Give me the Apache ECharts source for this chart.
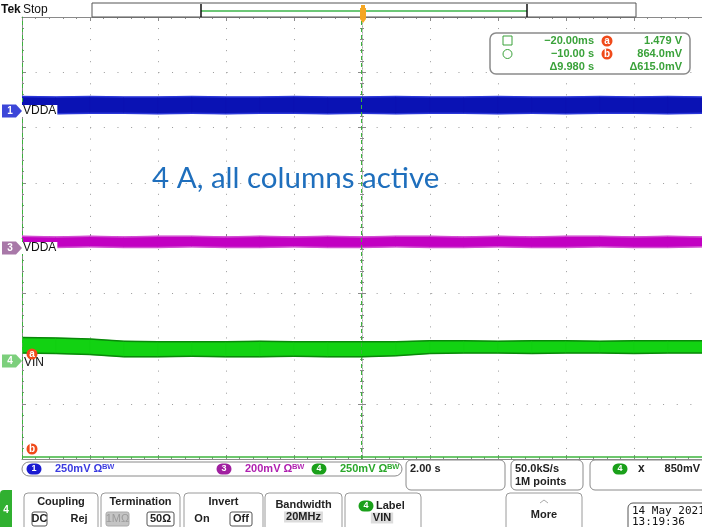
<!DOCTYPE html>
<html>
<head>
<meta charset="utf-8">
<script src="https://cdn.jsdelivr.net/npm/echarts@6/dist/echarts.min.js"></script>
<style>
html, body { margin: 0; padding: 0; background: #fff; }
#scope { width: 702px; height: 527px; }
</style>
</head>
<body>
<div id="scope"></div>
<script>
// time base, 2 s/div, trigger in the middle
var timeSec = [-10, -9, -8, -7, -6, -5, -4, -3, -2, -1, 0, 1, 2, 3, 4, 5, 6, 7, 8, 9, 10];
// trace envelopes, in divisions from the centre line
var ch1Top = [2.56, 2.55, 2.56, 2.55, 2.55, 2.56, 2.55, 2.55, 2.56, 2.55, 2.55, 2.56, 2.55, 2.55, 2.56, 2.55, 2.55, 2.56, 2.55, 2.56, 2.55];
var ch1Bot = [2.26, 2.25, 2.26, 2.26, 2.25, 2.26, 2.25, 2.26, 2.26, 2.25, 2.26, 2.25, 2.26, 2.26, 2.25, 2.26, 2.25, 2.26, 2.26, 2.25, 2.26];
var ch3Top = [0.03, 0.02, 0.03, 0.02, 0.03, 0.03, 0.02, 0.03, 0.02, 0.03, 0.02, 0.03, 0.03, 0.02, 0.03, 0.02, 0.03, 0.03, 0.02, 0.03, 0.02];
var ch3Bot = [-0.17, -0.17, -0.16, -0.17, -0.17, -0.16, -0.17, -0.17, -0.16, -0.17, -0.17, -0.16, -0.17, -0.17, -0.16, -0.17, -0.17, -0.16, -0.17, -0.17, -0.16];
var ch4Top = [-1.80, -1.81, -1.83, -1.87, -1.88, -1.88, -1.88, -1.87, -1.88, -1.88, -1.88, -1.88, -1.86, -1.86, -1.87, -1.86, -1.86, -1.87, -1.86, -1.86, -1.86];
var ch4Bot = [-2.08, -2.09, -2.11, -2.15, -2.15, -2.14, -2.15, -2.15, -2.14, -2.15, -2.15, -2.13, -2.09, -2.08, -2.08, -2.09, -2.08, -2.08, -2.09, -2.08, -2.08];
// cursors: a = -20 ms, b = -10 s ; horizontal cursor b level (div)
var cursorTimes = [-0.02, -10.0];
var cursorLevels = [-3.96];

var myChart = echarts.init(document.getElementById('scope'));

// one trace = filled band between two envelopes, drawn segment by segment
function band(name, top, bot, fill, edge) {
	return {
		name: name, type: 'custom', silent: true, clip: true,
		encode: { x: 0, y: [1, 2] },
		data: timeSec.map(function (t, i) { return [t, top[i], bot[i]]; }),
		renderItem: function (params, api) {
			var i = params.dataIndex;
			if (i >= timeSec.length - 1) return null;
			var a1 = api.coord([timeSec[i], top[i]]), a2 = api.coord([timeSec[i + 1], top[i + 1]]);
			var b1 = api.coord([timeSec[i], bot[i]]), b2 = api.coord([timeSec[i + 1], bot[i + 1]]);
			return {
				type: 'group',
				children: [
					{ type: 'polygon', shape: { points: [a1, a2, b2, b1] }, style: { fill: fill, stroke: fill, lineWidth: 0.6 } },
					{ type: 'line', shape: { x1: a1[0], y1: a1[1], x2: a2[0], y2: a2[1] }, style: { stroke: edge, lineWidth: 1.5 } },
					{ type: 'line', shape: { x1: b1[0], y1: b1[1], x2: b2[0], y2: b2[1] }, style: { stroke: edge, lineWidth: 1.5 } }
				]
			};
		}
	};
}

var rulerX = function (pos, inside, onZero) {
	return {
		type: 'value', min: -10, max: 10, interval: 2, position: pos,
		axisLine: { show: true, onZero: onZero, onZeroAxisIndex: 0, lineStyle: { color: onZero ? '#aaa' : '#8a8a8a', width: 1, type: onZero ? [1, 2] : 'solid' } },
		axisTick: { show: true, inside: inside, length: 4, lineStyle: { color: '#8a8a8a' } },
		minorTick: { show: true, splitNumber: 5, length: 2, lineStyle: { color: '#8a8a8a' } },
		axisLabel: { show: false },
		splitLine: { show: false }
	};
};
var rulerY = function (pos, inside, onZero) {
	return {
		type: 'value', min: -4, max: 4, interval: 1, position: pos,
		axisLine: { show: true, onZero: onZero, onZeroAxisIndex: 0, lineStyle: { color: onZero ? '#aaa' : '#8a8a8a', width: 1, type: onZero ? [1, 2] : 'solid' } },
		axisTick: { show: true, inside: inside, length: 4, lineStyle: { color: '#8a8a8a' } },
		minorTick: { show: true, splitNumber: 5, length: 2, lineStyle: { color: '#8a8a8a' } },
		axisLabel: { show: false },
		splitLine: { show: false }
	};
};

var xMain = rulerX('bottom', true, false);
xMain.splitLine = { show: true, lineStyle: { color: '#9a9a9a', width: 1, type: [1, 10.05] } };
var yMain = rulerY('left', true, false);
yMain.splitLine = { show: true, lineStyle: { color: '#9a9a9a', width: 1, type: [1, 12.64] } };

var uiFont = 'Liberation Sans';
var g = [];
function txt(x, y, s, o) {
	o = o || {};
	g.push({
		type: 'text', z: o.z || 20, silent: true,
		style: {
			text: s, x: x, y: y, fill: o.color || '#222', font: (o.weight || 'bold') + ' ' + (o.size || 11) + 'px ' + (o.family || uiFont),
			align: o.align || 'left', verticalAlign: 'middle',
			backgroundColor: o.bg, padding: o.pad
		}
	});
}
function box(x, y, w, h, r, stroke, fill, lw) {
	g.push({
		type: 'rect', z: 15, silent: true,
		shape: { x: x, y: y, width: w, height: h, r: r },
		style: { fill: fill || '#fff', stroke: stroke || '#9a9a9a', lineWidth: lw || 1 }
	});
}
function pill(cx, cy, s, color, w) {
	w = w || 15;
	g.push({ type: 'rect', z: 21, silent: true, shape: { x: cx - w / 2, y: cy - 5.5, width: w, height: 11, r: 5.5 }, style: { fill: color } });
	g.push({ type: 'text', z: 22, silent: true, style: { text: s, x: cx, y: cy, fill: '#fff', font: 'bold 9px ' + uiFont, align: 'center', verticalAlign: 'middle' } });
}
function dot(cx, cy, s) {
	g.push({ type: 'circle', z: 21, silent: true, shape: { cx: cx, cy: cy, r: 5.5 }, style: { fill: '#f04a1a' } });
	g.push({ type: 'text', z: 22, silent: true, style: { text: s, x: cx, y: cy, fill: '#fff', font: 'bold 10px ' + uiFont, align: 'center', verticalAlign: 'middle' } });
}
function chMarker(y, s, color, textColor) {
	g.push({ type: 'polygon', z: 21, silent: true, shape: { points: [[2, y - 6.5], [16, y - 6.5], [22, y], [16, y + 6.5], [2, y + 6.5]] }, style: { fill: color } });
	g.push({ type: 'text', z: 22, silent: true, style: { text: s, x: 10, y: y, fill: textColor || '#fff', font: 'bold 10px ' + uiFont, align: 'center', verticalAlign: 'middle' } });
}

// header
txt(1, 10, 'Tek', { size: 12, weight: 'bold', color: '#111' });
txt(23, 10, 'Stop', { size: 12, weight: 'normal', color: '#111' });
box(92, 3, 544, 14, 0, '#555', '#fff', 1);
g.push({ type: 'line', z: 16, silent: true, shape: { x1: 201, y1: 11, x2: 527, y2: 11 }, style: { stroke: '#3cb44a', lineWidth: 1.5 } });
g.push({ type: 'line', z: 16, silent: true, shape: { x1: 201, y1: 4, x2: 201, y2: 17 }, style: { stroke: '#111', lineWidth: 1.5 } });
g.push({ type: 'line', z: 16, silent: true, shape: { x1: 527, y1: 4, x2: 527, y2: 17 }, style: { stroke: '#111', lineWidth: 1.5 } });
g.push({ type: 'polygon', z: 17, silent: true, shape: { points: [[360, 8], [366, 8], [366, 19], [363, 23], [360, 19]] }, style: { fill: '#f5a623' } });
g.push({ type: 'rect', z: 17, silent: true, shape: { x: 361, y: 5, width: 4, height: 3 }, style: { fill: '#f5a623' } });

// cursor readout
box(490, 33, 200, 41, 6, '#8a8a8a', '#fff', 1.5);
var cg = '#3aa23a';
g.push({ type: 'rect', z: 21, silent: true, shape: { x: 503, y: 36, width: 9, height: 9 }, style: { fill: 'none', stroke: cg, lineWidth: 1 } });
g.push({ type: 'circle', z: 21, silent: true, shape: { cx: 507.5, cy: 54, r: 4.5 }, style: { fill: 'none', stroke: cg, lineWidth: 1 } });
txt(594, 41, '\u221220.00ms', { align: 'right', color: cg });
txt(594, 54, '\u221210.00 s', { align: 'right', color: cg });
txt(594, 67, '\u03949.980 s', { align: 'right', color: cg });
dot(607, 41, 'a');
dot(607, 54, 'b');
txt(682, 41, '1.479 V', { align: 'right', color: cg });
txt(682, 54, '864.0mV', { align: 'right', color: cg });
txt(682, 67, '\u0394615.0mV', { align: 'right', color: cg });

// channel markers on the left edge
chMarker(111, '1', '#3c46d8');
txt(22, 111, 'VDDA', { color: '#111', weight: 'normal', size: 12, bg: '#fff', pad: [0, 1] });
chMarker(248, '3', '#a878a8');
txt(22, 248, 'VDDA', { color: '#111', weight: 'normal', size: 12, bg: '#fff', pad: [0, 1] });
chMarker(361, '4', '#7ccf7c');
txt(23, 363, 'VIN', { color: '#111', weight: 'normal', size: 12, bg: '#fff', pad: [0, 1] });
dot(32, 354, 'a');
dot(32, 449, 'b');

// annotation
txt(152, 178, '4 A, all columns active', { family: 'Lato', size: 29.5, weight: 'normal', color: '#1f6fbd' });

// status bar
box(22, 462, 380, 14, 7, '#8a8a8a', '#fff', 1);
pill(34, 469, '1', '#1a1ad0');
txt(55, 469, '250mV \u03a9\u1d2e\u1d42', { color: '#3b3be0', size: 11 });
pill(224, 469, '3', '#a020a0');
txt(245, 469, '200mV \u03a9\u1d2e\u1d42', { color: '#b020b0', size: 11 });
pill(319, 469, '4', '#1aa01a');
txt(340, 469, '250mV \u03a9\u1d2e\u1d42', { color: '#2aa82a', size: 11 });
box(406, 460, 99, 30, 5, '#8a8a8a', '#fff', 1);
txt(410, 469, '2.00 s', { color: '#222' });
box(511, 460, 72, 30, 5, '#8a8a8a', '#fff', 1);
txt(515, 469, '50.0kS/s', { color: '#222' });
txt(515, 482, '1M points', { color: '#222' });
box(590, 460, 120, 30, 5, '#8a8a8a', '#fff', 1);
pill(620, 469, '4', '#1aa01a');
txt(638, 469, 'x', { color: '#222', size: 12 });
txt(700, 469, '850mV', { color: '#222', align: 'right' });

// bottom menu
g.push({ type: 'rect', z: 15, silent: true, shape: { x: 0, y: 490, width: 12, height: 40, r: [4, 0, 0, 0] }, style: { fill: '#30b030' } });
txt(6, 510, '4', { color: '#fff', align: 'center', size: 10 });
box(24, 493, 74, 40, 4);
txt(61, 502, 'Coupling', { align: 'center' });
box(32, 512, 15, 14, 2, '#555', '#fff');
txt(39.5, 519, 'DC', { align: 'center' });
txt(79, 519, 'Rej', { align: 'center' });
box(101, 493, 79, 40, 4);
txt(140.5, 502, 'Termination', { align: 'center' });
box(106, 512, 23, 14, 2, '#aaa', '#c4c4c4');
txt(117.5, 519, '1M\u03a9', { align: 'center', color: '#9a9a9a', weight: 'normal' });
box(147, 512, 27, 14, 2, '#555', '#fff');
txt(160.5, 519, '50\u03a9', { align: 'center' });
box(184, 493, 79, 40, 4);
txt(223.5, 502, 'Invert', { align: 'center' });
txt(202, 519, 'On', { align: 'center' });
box(230, 512, 22, 14, 2, '#555', '#fff');
txt(241, 519, 'Off', { align: 'center' });
box(265, 493, 77, 40, 4);
txt(303.5, 505, 'Bandwidth', { align: 'center' });
txt(303.5, 517, '20MHz', { align: 'center', bg: '#dcdcdc', pad: [0, 2] });
box(345, 493, 76, 40, 4);
pill(366, 506, '4', '#1aa01a');
txt(376, 506, 'Label', {});
txt(382, 518, 'VIN', { align: 'center', bg: '#dcdcdc', pad: [0, 2] });
box(506, 493, 76, 40, 4);
g.push({ type: 'polyline', z: 20, silent: true, shape: { points: [[540, 503], [544, 500], [548, 503]] }, style: { stroke: '#aaa', fill: 'none', lineWidth: 1 } });
txt(544, 515, 'More', { align: 'center' });
box(628, 503, 80, 30, 5, '#555', '#fff', 1);
txt(632, 511, '14 May 2021', { color: '#111', weight: 'normal', size: 11, family: 'DejaVu Sans Mono' });
txt(632, 522, '13:19:36', { color: '#111', weight: 'normal', size: 11, family: 'DejaVu Sans Mono' });

var series = [
	band('ch1', ch1Top, ch1Bot, '#0a12b4', '#2a36d8'),
	band('ch3', ch3Top, ch3Bot, '#c200c2', '#d24ed2'),
	band('ch4', ch4Top, ch4Bot, '#12d212', '#0a870a')
];

// cursors
series.push({
	name: 'cursors', type: 'line', data: [], silent: true,
	markLine: {
		symbol: 'none', silent: true, label: { show: false },
		lineStyle: { color: '#3cb43c', width: 1, type: [4, 3] },
		data: cursorTimes.map(function (t) { return { xAxis: t }; })
			.concat(cursorLevels.map(function (v) { return { yAxis: v, lineStyle: { type: 'solid', width: 1.5 } }; }))
	}
});

option = {
	backgroundColor: '#fff',
	animation: false,
	grid: { left: 22, top: 17, width: 682, height: 442, containLabel: false },
	xAxis: [xMain, rulerX('top', true, false), rulerX('bottom', true, true), rulerX('bottom', false, true)],
	yAxis: [yMain, rulerY('left', true, true), rulerY('left', false, true)],
	series: series,
	graphic: g
};
myChart.setOption(option);
</script>
</body>
</html>
